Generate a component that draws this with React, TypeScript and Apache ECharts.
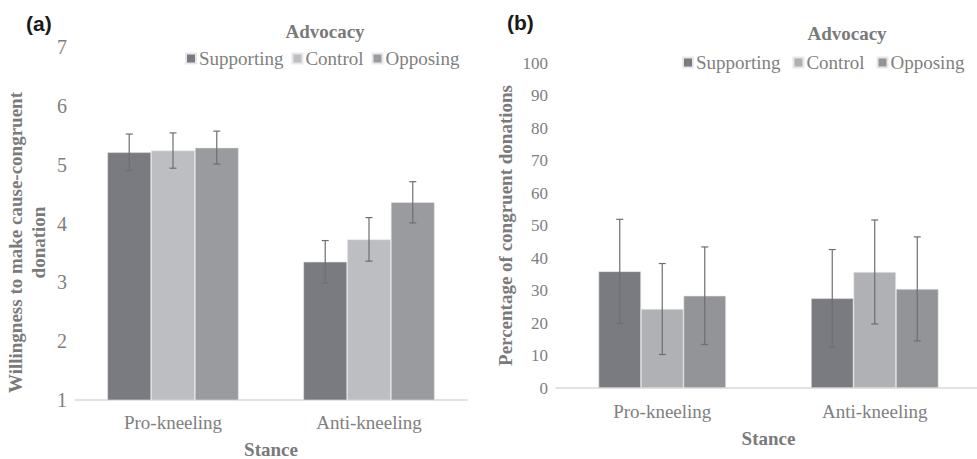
import React, { useEffect, useRef } from "react";
import * as echarts from "echarts";

const stances = ["Pro-kneeling", "Anti-kneeling"];
const advocacy = ["Supporting", "Control", "Opposing"];

// Panel (a): willingness means and error half-widths
const willSupporting = [5.21, 3.35];
const willControl = [5.24, 3.73];
const willOpposing = [5.29, 4.36];
const willErrSupporting = [0.31, 0.36];
const willErrControl = [0.3, 0.37];
const willErrOpposing = [0.28, 0.35];

// Panel (b): percentage of congruent donations
const pctSupporting = [35.9, 27.6];
const pctControl = [24.3, 35.7];
const pctOpposing = [28.4, 30.5];
const pctErrSupporting = [16.0, 15.0];
const pctErrControl = [14.0, 16.0];
const pctErrOpposing = [15.0, 16.0];

const willTicks = [1, 7, 1];
const pctTicks = [0, 100, 10];

const colorsA = ["#7a7b80", "#bdbec2", "#9a9b9f"];
const colorsB = ["#7a7b80", "#b0b1b5", "#939497"];

const SERIF = "Liberation Serif";
const SANS = "Liberation Sans";
const GREY = "#808080";

export default function App() {
  const ref = useRef<HTMLDivElement>(null);
  useEffect(() => {
    const chart = echarts.init(ref.current!, null, { renderer: "svg" });

    const errBar = (
      gridIdx: number,
      slot: number,
      gap: number,
      vals: number[],
      errs: number[]
    ) => ({
      type: "custom",
      xAxisIndex: gridIdx,
      yAxisIndex: gridIdx,
      z: 10,
      silent: true,
      data: vals.map((v, i) => [i, v, errs[i]]),
      renderItem: (params: any, api: any) => {
        const c = api.value(0);
        const v = api.value(1);
        const e = api.value(2);
        const center = api.coord([c, v]);
        const band = api.size([1, 0])[0];
        const bw = (band * (1 - gap)) / 3;
        const x = center[0] + (slot - 1) * bw;
        const top = api.coord([c, v + e])[1];
        const bot = api.coord([c, v - e])[1];
        const cap = 3.5;
        const style = { stroke: "#6e6e70", lineWidth: 1.2 };
        return {
          type: "group",
          children: [
            { type: "line", shape: { x1: x, y1: top, x2: x, y2: bot }, style },
            { type: "line", shape: { x1: x - cap, y1: top, x2: x + cap, y2: top }, style },
            { type: "line", shape: { x1: x - cap, y1: bot, x2: x + cap, y2: bot }, style },
          ],
        };
      },
    });

    const gapA = 0.33;
    const gapB = 0.4;
    const seriesA = [willSupporting, willControl, willOpposing];
    const errsA = [willErrSupporting, willErrControl, willErrOpposing];
    const seriesB = [pctSupporting, pctControl, pctOpposing];
    const errsB = [pctErrSupporting, pctErrControl, pctErrOpposing];

    const bars: any[] = [];
    advocacy.forEach((name, i) => {
      bars.push({
        type: "bar",
        name,
        xAxisIndex: 0,
        yAxisIndex: 0,
        data: seriesA[i],
        barGap: "0%",
        barCategoryGap: gapA * 100 + "%",
        itemStyle: { color: colorsA[i], borderColor: "#e8e8ea", borderWidth: 0.6 },
      });
    });
    advocacy.forEach((name, i) => {
      bars.push({
        type: "bar",
        name,
        xAxisIndex: 1,
        yAxisIndex: 1,
        data: seriesB[i],
        barGap: "0%",
        barCategoryGap: gapB * 100 + "%",
        itemStyle: { color: colorsB[i], borderColor: "#e8e8ea", borderWidth: 0.6 },
      });
    });
    advocacy.forEach((_, i) => bars.push(errBar(0, i, gapA, seriesA[i], errsA[i])));
    advocacy.forEach((_, i) => bars.push(errBar(1, i, gapB, seriesB[i], errsB[i])));

    const xAxisCommon = (idx: number, fs: number, margin: number, nameGap: number) => ({
      type: "category",
      gridIndex: idx,
      data: stances,
      axisTick: { show: false },
      axisLine: { lineStyle: { color: "#d9d9d9", width: 1.5 } },
      axisLabel: { color: GREY, fontFamily: SERIF, fontSize: fs, margin },
      name: "Stance",
      nameLocation: "middle",
      nameGap,
      nameTextStyle: {
        color: "#7a7a7a",
        fontFamily: SERIF,
        fontWeight: "bold",
        fontSize: 19,
        lineHeight: 19,
      },
    });

    const legendItem = (colors: string[]) =>
      advocacy.map((n, i) => ({ name: n, itemStyle: { color: colors[i] } }));

    const titleText = (text: string, left: number, top: number, center: boolean, sans: boolean) => ({
      text,
      left,
      top,
      padding: 0,
      textAlign: center ? "center" : "left",
      textStyle: sans
        ? { color: "#1a1a1a", fontFamily: SANS, fontWeight: "bold", fontSize: 21 }
        : { color: "#7a7a7a", fontFamily: SERIF, fontWeight: "bold", fontSize: 19 },
    });

    chart.setOption({
      animation: false,
      grid: [
        { left: 75, right: 510, top: 47, bottom: 59, outerBoundsMode: "none", containLabel: false },
        { left: 556, right: -4, top: 63, bottom: 71, outerBoundsMode: "none", containLabel: false },
      ],
      xAxis: [xAxisCommon(0, 19, 13, 40), xAxisCommon(1, 19, 14, 41)],
      yAxis: [
        {
          type: "value",
          gridIndex: 0,
          min: willTicks[0],
          max: willTicks[1],
          interval: willTicks[2],
          axisLine: { show: false },
          axisTick: { show: false },
          splitLine: { show: false },
          axisLabel: { color: GREY, fontFamily: SERIF, fontSize: 20, margin: 8 },
          name: "Willingness to make cause-congruent\ndonation",
          nameLocation: "middle",
          nameGap: 25,
          nameTextStyle: {
            color: "#7a7a7a",
            fontFamily: SERIF,
            fontWeight: "bold",
            fontSize: 19,
            lineHeight: 23,
            padding: [0, 38, 0, 0],
          },
        },
        {
          type: "value",
          gridIndex: 1,
          min: pctTicks[0],
          max: pctTicks[1],
          interval: pctTicks[2],
          axisLine: { show: false },
          axisTick: { show: false },
          splitLine: { show: false },
          axisLabel: { color: GREY, fontFamily: SERIF, fontSize: 17, margin: 8 },
          name: "Percentage of congruent donations",
          nameLocation: "middle",
          nameGap: 41,
          nameTextStyle: {
            color: "#7a7a7a",
            fontFamily: SERIF,
            fontWeight: "bold",
            fontSize: 19,
          },
        },
      ],
      legend: [
        {
          data: legendItem(colorsA),
          left: 180,
          top: 44,
          itemWidth: 10,
          itemHeight: 10,
          itemGap: 8,
          icon: "rect",
          selectedMode: false,
          textStyle: { color: GREY, fontFamily: SERIF, fontSize: 19, padding: [0, 0, 0, -2] },
        },
        {
          data: legendItem(colorsB),
          left: 677,
          top: 48,
          itemWidth: 10,
          itemHeight: 10,
          itemGap: 12,
          icon: "rect",
          selectedMode: false,
          textStyle: { color: GREY, fontFamily: SERIF, fontSize: 19, padding: [0, 0, 0, -2] },
        },
      ],
      title: [
        titleText("Advocacy", 325, 22, true, false),
        titleText("Advocacy", 847, 24, true, false),
        titleText("(a)", 26, 13, false, true),
        titleText("(b)", 507, 12, false, true),
      ],
      series: bars,
    });
    return () => chart.dispose();
  }, []);
  return (
    <div
      ref={ref}
      style={{ position: "fixed", left: 0, top: 0, width: 977, height: 459, background: "#fff" }}
    />
  );
}
